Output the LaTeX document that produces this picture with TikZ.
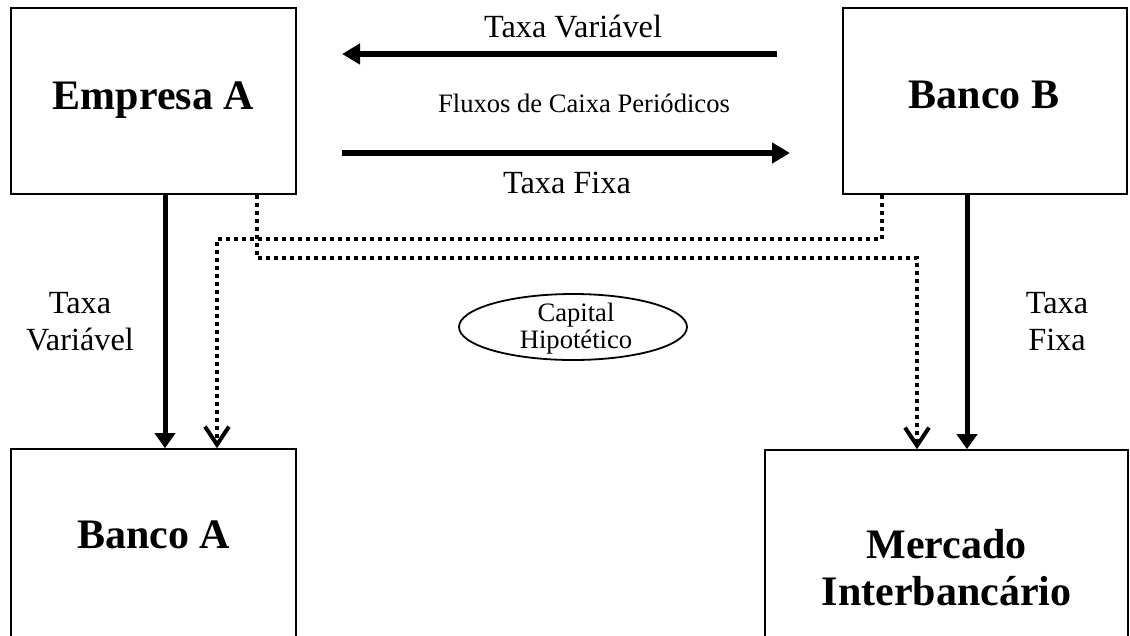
\documentclass[tikz,border=0pt]{standalone}
\usepackage{fontspec}
\setmainfont{Liberation Serif}
\usetikzlibrary{arrows.meta,shapes.geometric}
\begin{document}
\begin{tikzpicture}[x=1pt,y=-1pt,
  box/.style={draw,line width=1.6pt,rectangle,inner sep=0pt},
  boxtext/.style={font=\fontsize{42}{47}\selectfont\bfseries,anchor=base,align=center,inner sep=0pt},
  lbl/.style={font=\fontsize{32.3}{37}\selectfont,anchor=base,align=center,inner sep=0pt},
  small/.style={font=\fontsize{26.6}{27}\selectfont,anchor=base,align=center,inner sep=0pt},
  solidarr/.style={line width=5pt,-{Triangle[length=15pt,width=20pt]}},
  wide/.style={line width=6pt,-{Triangle[length=18pt,width=20pt]}},
  dotarr/.style={line width=4pt,dash pattern=on 4pt off 4pt,-{Straight Barb[length=18pt,width=24pt,line width=4pt]}}
]
\useasboundingbox (0,0) rectangle (1130,635);
\clip (0,0) rectangle (1130,635);
% boxes
\node[box,minimum width=285pt,minimum height=186pt] (empA) at (153.5,101) {};
\node[box,minimum width=284pt,minimum height=186pt] (bancoB) at (985,101) {};
\node[box,minimum width=285pt,minimum height=192pt] (bancoA) at (153.5,545) {};
\node[box,minimum width=363pt,minimum height=192pt] (merc) at (946.5,546) {};
% box texts
\node[boxtext] (tEmpA) at (153.5,109) {Empresa A};
\node[boxtext] (tBancoB) at (984,108) {Banco B};
\node[boxtext] (tBancoA) at (153.5,548) {Banco A};
\node[boxtext] (tMerc) at (946.5,605) {Mercado\\Interbancário};
% top arrows
\coordinate (l1s) at (777,54);
\coordinate (l1e) at (342,54);
\coordinate (l2s) at (342,153);
\coordinate (l2e) at (790,153);
\draw[wide] (l1s) -- (l1e);
\draw[wide] (l2s) -- (l2e);
\node[lbl] (tv) at (573,37) {Taxa Variável};
\node[small] (fl) at (584,112) {Fluxos de Caixa Periódicos};
\node[lbl] (tf) at (567,193) {Taxa Fixa};
% vertical solid arrows
\draw[solidarr] ([xshift=11.5pt]empA.south) -- ([xshift=11.5pt]bancoA.north);
\draw[solidarr] ([xshift=-18pt]bancoB.south) -- ([xshift=20.5pt]merc.north);
\node[lbl] (lv) at (80,350) {Taxa\\Variável};
\node[lbl] (lf) at (1057,350) {Taxa\\Fixa};
% dotted arrows
\draw[dotarr] ([xshift=103.5pt]empA.south) -- ++(0,63) -| ([xshift=-29.5pt]merc.north);
\draw[dotarr] ([xshift=-103pt]bancoB.south) -- ++(0,44) -| ([xshift=63.5pt]bancoA.north);
% ellipse
\node[ellipse,draw,line width=1.8pt,minimum width=228pt,minimum height=66pt,inner sep=0pt] (cap) at (573,327) {};
\node[small] (capt) at (576,348) {Capital\\Hipotético};
\end{tikzpicture}
\end{document}
